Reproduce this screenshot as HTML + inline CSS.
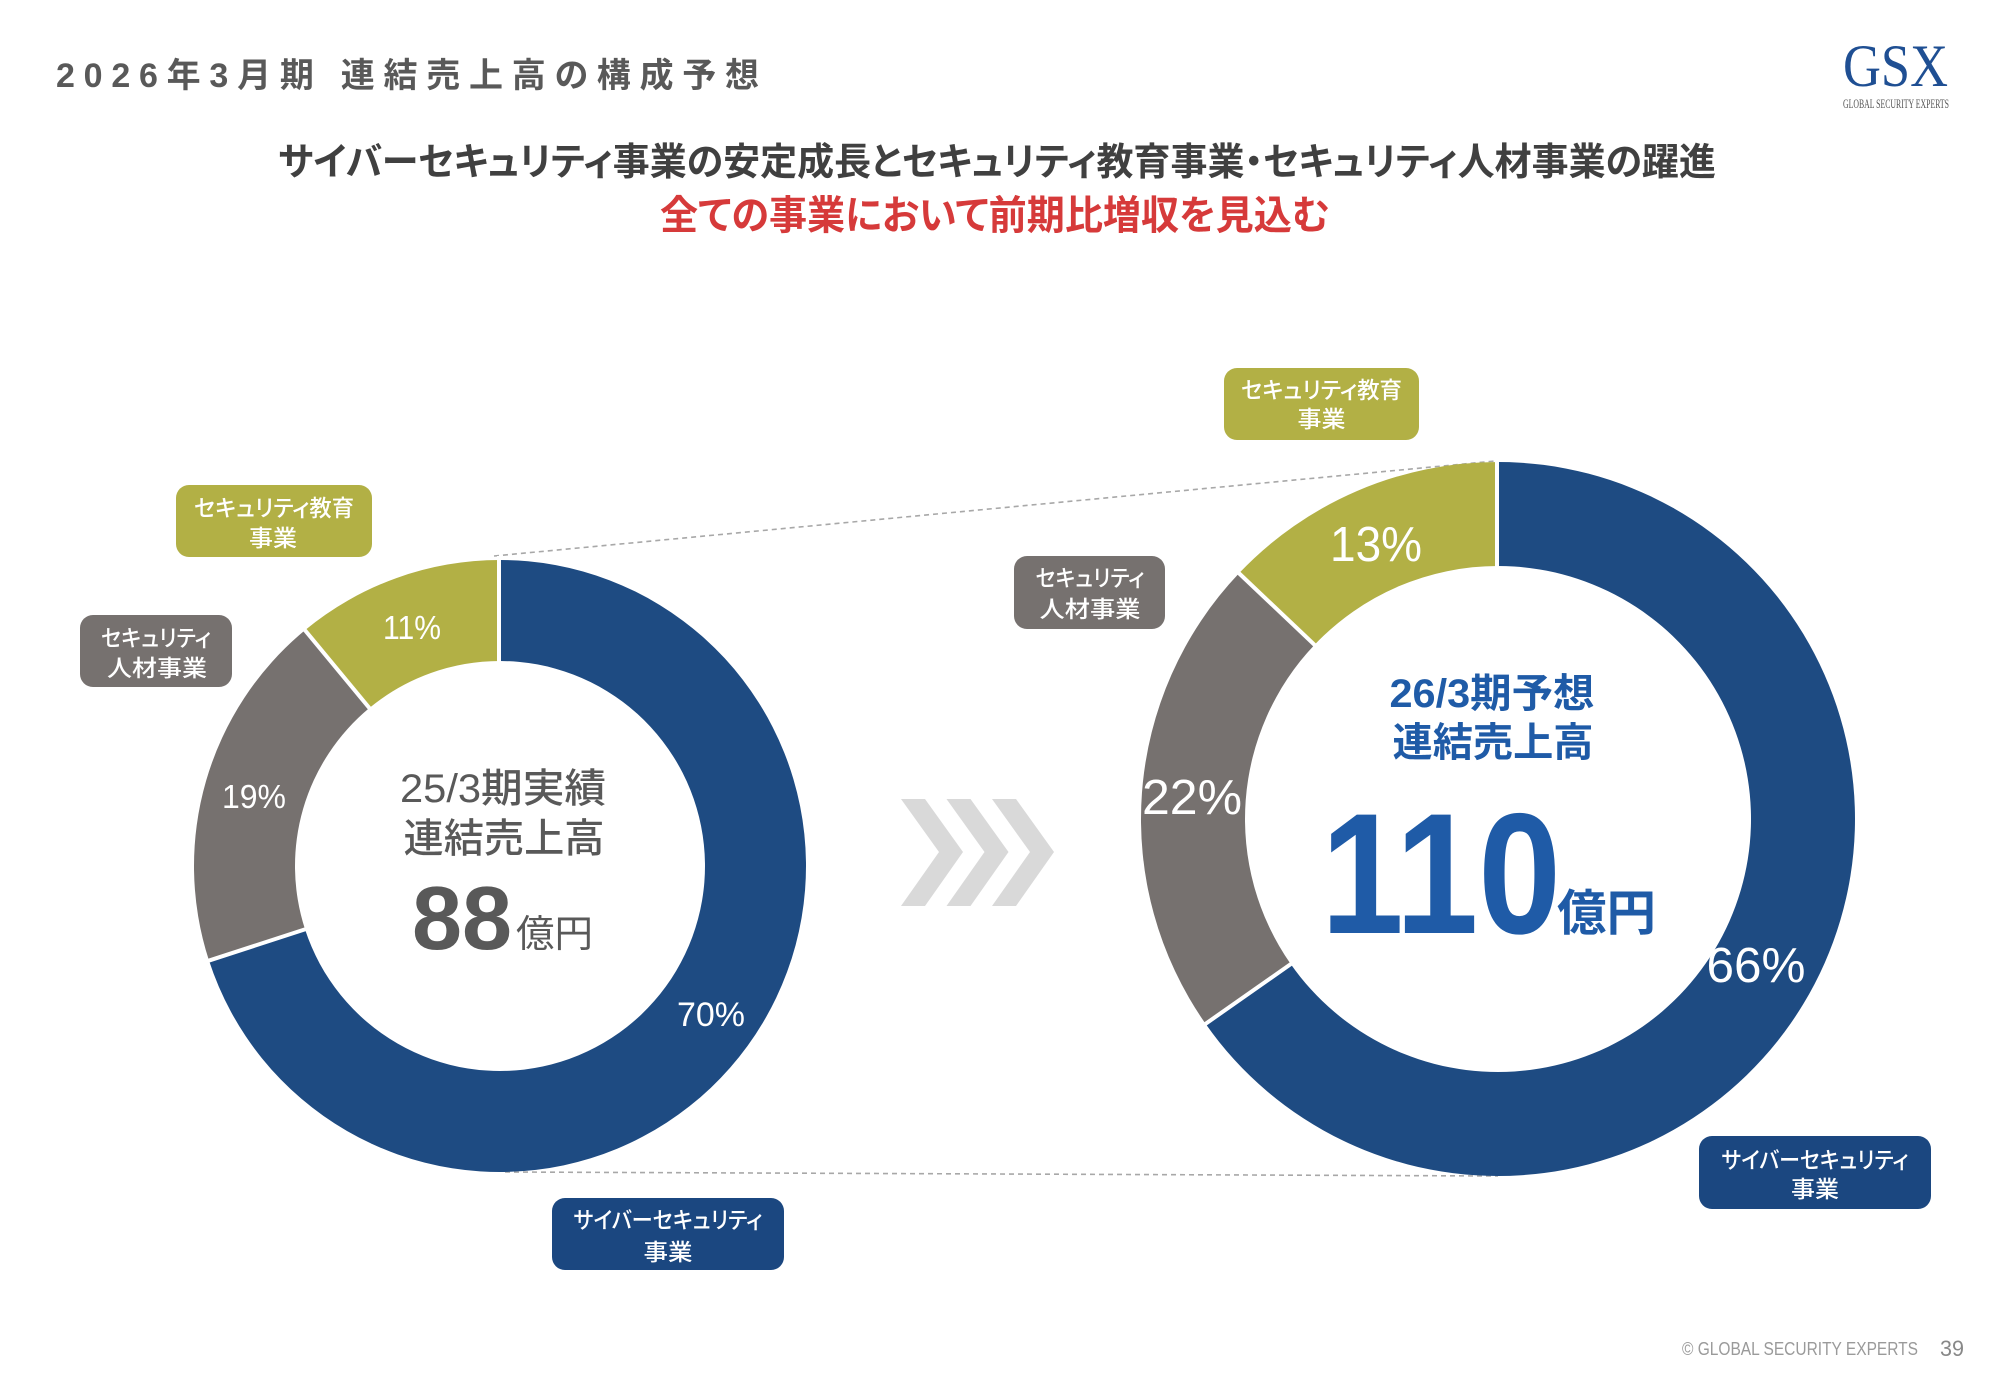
<!DOCTYPE html>
<html><head><meta charset="utf-8"><style>
html,body{margin:0;padding:0;background:#fff;}
svg{display:block;}
text{font-family:"Liberation Sans","Noto Sans CJK JP",sans-serif;font-feature-settings:"palt";}
.serif{font-family:"Liberation Serif","Noto Serif CJK SC",serif;}
</style></head><body>
<svg width="2000" height="1385" viewBox="0 0 2000 1385" xmlns="http://www.w3.org/2000/svg">
<rect width="2000" height="1385" fill="#fff"/>

<!-- Title -->
<text x="56" y="87" font-size="34" font-weight="bold" fill="#595959" textLength="703" lengthAdjust="spacing">2026年3月期 連結売上高の構成予想</text>

<!-- Logo -->
<text class="serif" x="1843" y="86" font-size="60" fill="#1f4f93" textLength="105" lengthAdjust="spacingAndGlyphs">GSX</text>
<text class="serif" x="1843" y="108" font-size="13" fill="#555" textLength="106" lengthAdjust="spacingAndGlyphs">GLOBAL SECURITY EXPERTS</text>

<!-- Subtitles -->
<text x="278" y="175" font-size="38" font-weight="bold" fill="#404040" textLength="1438" lengthAdjust="spacingAndGlyphs">サイバーセキュリティ事業の安定成長とセキュリティ教育事業・セキュリティ人材事業の躍進</text>
<text x="660" y="229" font-size="40" font-weight="bold" fill="#d63a3a" textLength="670" lengthAdjust="spacingAndGlyphs">全ての事業において前期比増収を見込む</text>

<!-- Dashed connector lines -->
<line x1="494" y1="556" x2="1495" y2="461" stroke="#a8a8a8" stroke-width="1.6" stroke-dasharray="5 4"/>
<line x1="505" y1="1172" x2="1498" y2="1176" stroke="#a8a8a8" stroke-width="1.6" stroke-dasharray="5 4"/>

<!-- Left donut -->
<path d="M500 560 A306 306 0 1 1 208.98 960.56 L305.03 929.35 A205 205 0 1 0 500 661 Z" fill="#1e4b82"/>
<path d="M208.98 960.56 A306 306 0 0 1 304.95 630.22 L369.33 708.05 A205 205 0 0 0 305.03 929.35 Z" fill="#76716f"/>
<path d="M304.95 630.22 A306 306 0 0 1 500 560 L500 661 A205 205 0 0 0 369.33 708.05 Z" fill="#b2b045"/>
<line x1="499" y1="556" x2="499" y2="664" stroke="#fff" stroke-width="4"/>
<line x1="205.2" y1="961.8" x2="308" y2="928.4" stroke="#fff" stroke-width="4"/>
<line x1="302.4" y1="627.1" x2="371.3" y2="710.4" stroke="#fff" stroke-width="4"/>

<!-- Left percent labels -->
<text x="412" y="639" font-size="33" fill="#fff" text-anchor="middle" textLength="58" lengthAdjust="spacingAndGlyphs">11%</text>
<text x="254" y="808" font-size="33" fill="#fff" text-anchor="middle" textLength="64" lengthAdjust="spacingAndGlyphs">19%</text>
<text x="711" y="1026" font-size="34" fill="#fff" text-anchor="middle" textLength="68" lengthAdjust="spacingAndGlyphs">70%</text>

<!-- Left center text -->
<text x="503" y="802" font-size="40" font-weight="500" fill="#595959" text-anchor="middle" textLength="206" lengthAdjust="spacingAndGlyphs">25/3期実績</text>
<text x="504" y="852" font-size="40" font-weight="500" fill="#595959" text-anchor="middle" textLength="201" lengthAdjust="spacingAndGlyphs">連結売上高</text>
<text x="412" y="949" font-size="90" font-weight="bold" fill="#595959" textLength="100" lengthAdjust="spacingAndGlyphs">88</text>
<text x="516" y="947" font-size="38" fill="#595959" textLength="77" lengthAdjust="spacingAndGlyphs">億円</text>

<!-- Chevrons -->
<g fill="#d9d9d9">
<polygon points="901,799 925,799 963,852 925,906 901,906 939,852"/>
<polygon points="946.5,799 970.5,799 1008.5,852 970.5,906 946.5,906 984.5,852"/>
<polygon points="992,799 1016,799 1054,852 1016,906 992,906 1030,852"/>
</g>

<!-- Right donut -->
<path d="M1498 462 A357 357 0 1 1 1205.56 1023.77 L1290.76 964.12 A253 253 0 1 0 1498 566 Z" fill="#1e4b82"/>
<path d="M1205.56 1023.77 A357 357 0 0 1 1239.04 573.26 L1314.48 644.85 A253 253 0 0 0 1290.76 964.12 Z" fill="#76716f"/>
<path d="M1239.04 573.26 A357 357 0 0 1 1498 462 L1498 566 A253 253 0 0 0 1314.48 644.85 Z" fill="#b2b045"/>
<line x1="1497" y1="458" x2="1497" y2="569" stroke="#fff" stroke-width="4"/>
<line x1="1202.3" y1="1026.1" x2="1293.2" y2="962.4" stroke="#fff" stroke-width="4"/>
<line x1="1236.1" y1="570.5" x2="1316.7" y2="646.9" stroke="#fff" stroke-width="4"/>

<!-- Right percent labels -->
<text x="1376" y="561" font-size="49" fill="#fff" text-anchor="middle" textLength="92" lengthAdjust="spacingAndGlyphs">13%</text>
<text x="1192" y="814" font-size="49" fill="#fff" text-anchor="middle" textLength="100" lengthAdjust="spacingAndGlyphs">22%</text>
<text x="1756" y="982" font-size="49" fill="#fff" text-anchor="middle" textLength="99" lengthAdjust="spacingAndGlyphs">66%</text>

<!-- Right center text -->
<text x="1492" y="707" font-size="40" font-weight="bold" fill="#1f5ba7" text-anchor="middle" textLength="205" lengthAdjust="spacingAndGlyphs">26/3期予想</text>
<text x="1493" y="756" font-size="40" font-weight="bold" fill="#1f5ba7" text-anchor="middle" textLength="201" lengthAdjust="spacingAndGlyphs">連結売上高</text>
<text x="1321" y="933" font-size="172" font-weight="bold" fill="#1f5ba7" textLength="240" lengthAdjust="spacingAndGlyphs">110</text>
<text x="1557" y="930" font-size="49" font-weight="bold" fill="#1f5ba7" textLength="99" lengthAdjust="spacingAndGlyphs">億円</text>

<!-- Callout labels -->
<g font-size="23" font-weight="500" fill="#fff">
<rect x="176" y="485" width="196" height="72" rx="13" fill="#b2b045"/>
<text x="274" y="516" text-anchor="middle" textLength="160" lengthAdjust="spacingAndGlyphs">セキュリティ教育</text>
<text x="273" y="546" text-anchor="middle" textLength="48" lengthAdjust="spacingAndGlyphs">事業</text>

<rect x="80" y="615" width="152" height="72" rx="13" fill="#76716f"/>
<text x="156" y="646" text-anchor="middle" textLength="110" lengthAdjust="spacingAndGlyphs">セキュリティ</text>
<text x="157" y="676" text-anchor="middle" textLength="100" lengthAdjust="spacingAndGlyphs">人材事業</text>

<rect x="552" y="1198" width="232" height="72" rx="13" fill="#1b4780"/>
<text x="668" y="1228" text-anchor="middle" textLength="189" lengthAdjust="spacingAndGlyphs">サイバーセキュリティ</text>
<text x="668" y="1260" text-anchor="middle" textLength="49" lengthAdjust="spacingAndGlyphs">事業</text>

<rect x="1224" y="368" width="195" height="72" rx="13" fill="#b2b045"/>
<text x="1321.5" y="398" text-anchor="middle" textLength="161" lengthAdjust="spacingAndGlyphs">セキュリティ教育</text>
<text x="1321.5" y="427" text-anchor="middle" textLength="48" lengthAdjust="spacingAndGlyphs">事業</text>

<rect x="1014" y="556" width="151" height="73" rx="13" fill="#76716f"/>
<text x="1090" y="586" text-anchor="middle" textLength="109" lengthAdjust="spacingAndGlyphs">セキュリティ</text>
<text x="1090" y="617" text-anchor="middle" textLength="101" lengthAdjust="spacingAndGlyphs">人材事業</text>

<rect x="1699" y="1136" width="232" height="73" rx="13" fill="#1b4780"/>
<text x="1815" y="1168" text-anchor="middle" textLength="187" lengthAdjust="spacingAndGlyphs">サイバーセキュリティ</text>
<text x="1815" y="1197" text-anchor="middle" textLength="48" lengthAdjust="spacingAndGlyphs">事業</text>
</g>

<!-- Footer -->
<text x="1682" y="1355" font-size="18" fill="#9a9a9a" textLength="236" lengthAdjust="spacingAndGlyphs">© GLOBAL SECURITY EXPERTS</text>
<text x="1940" y="1356" font-size="22" fill="#888" textLength="24" lengthAdjust="spacingAndGlyphs">39</text>
</svg>
</body></html>
